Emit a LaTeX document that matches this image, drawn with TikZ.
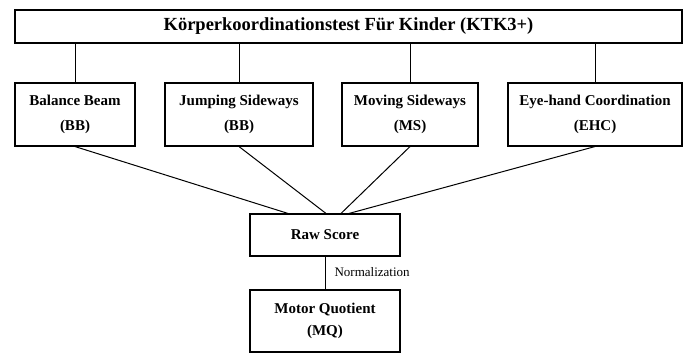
\documentclass[tikz,border=0pt]{standalone}
\usepackage{fontspec}
\setmainfont{Liberation Serif}
\begin{document}
\begin{tikzpicture}[x=1pt, y=-1pt, line width=1pt,
  every node/.style = {shape=rectangle, draw, line width=1.1pt,
    align=center, inner sep=0pt},
  testbox/.style = {minimum height=63pt,
    font=\fontsize{15}{25}\selectfont\bfseries},
  label/.style = {draw=none, font=\fontsize{13}{15}\selectfont}]
  \useasboundingbox (0,0) rectangle (686,353);
  % battery
  \node (ktk) [minimum width=667pt, minimum height=33pt,
    font=\fontsize{18.5}{20}\selectfont\bfseries] at (348.5,26.5)
    {Körperkoordinationstest Für Kinder (KTK3+)};
  % subtests
  \node (bb)  [testbox, minimum width=120pt] at (75,114.5)  {Balance Beam\\(BB)};
  \node (js)  [testbox, minimum width=148pt] at (239,114.5) {Jumping Sideways\\(BB)};
  \node (ms)  [testbox, minimum width=136pt] at (410,114.5) {Moving Sideways\\(MS)};
  \node (ehc) [testbox, minimum width=174pt] at (595,114.5) {Eye-hand Coordination\\(EHC)};
  % scores
  \node (raw) [minimum width=150pt, minimum height=42pt,
    font=\fontsize{15}{25}\selectfont\bfseries] at (325,235) {Raw Score};
  \node (mq)  [minimum width=150pt, minimum height=62pt,
    font=\fontsize{15}{22}\selectfont\bfseries] at (325,321) {Motor Quotient\\(MQ)};
  \node (norm) [label, anchor=west] at (334,272) {Normalization};
  % connectors
  \foreach \t in {bb, js, ms, ehc}
    \draw (\t.north) -- (\t.north |- ktk.south);
  \draw (bb.south)  -- ([xshift=-37pt]raw.north);
  \draw (js.south)  -- ([xshift=1pt]raw.north);
  \draw (ms.south)  -- ([xshift=16pt]raw.north);
  \draw (ehc.south) -- ([xshift=24pt]raw.north);
  \draw (raw) -- (mq);
\end{tikzpicture}
\end{document}
